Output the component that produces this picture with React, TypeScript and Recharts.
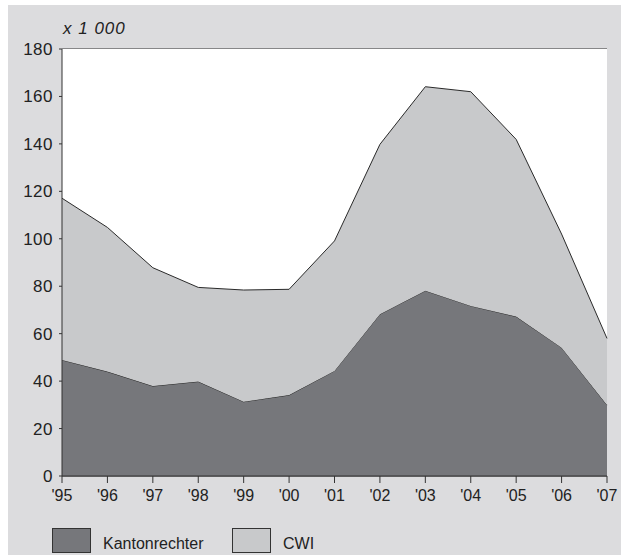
import { AreaChart, Area, XAxis, YAxis, CartesianGrid } from 'recharts';

const years = ["'95", "'96", "'97", "'98", "'99", "'00", "'01", "'02", "'03", "'04", "'05", "'06", "'07"];
const kantonrechter = [48.9, 44.0, 37.9, 39.8, 31.3, 34.1, 44.3, 68.2, 78.1, 71.7, 67.2, 54.1, 29.9];
const cwi = [68.2, 60.8, 49.9, 39.7, 47.1, 44.6, 54.8, 71.6, 86.0, 90.3, 74.7, 47.9, 28.1];
const yTicks = [0, 20, 40, 60, 80, 100, 120, 140, 160, 180];

const DARK = '#76777b';
const LIGHT = '#c8c9cb';
const BG = '#dcdcde';
const FONT = '"Liberation Sans", Arial, sans-serif';

const data = years.map((year, i) => ({ year, kantonrechter: kantonrechter[i], cwi: cwi[i] }));

const legendItems = [
    { name: 'Kantonrechter', color: DARK },
    { name: 'CWI', color: LIGHT }
];

export default function App() {
    return (
        <div style={{ position: 'fixed', left: 8, top: 5, width: 640, height: 560, background: BG, overflow: 'hidden' }}>
            <style>{'html, body { overflow: hidden; }'}</style>
            <span style={{ position: 'absolute', left: 55, top: 14, fontFamily: FONT, fontSize: 17, letterSpacing: 1, fontStyle: 'italic', color: '#222' }}>
                x 1 000
            </span>
            <AreaChart width={613} height={550} data={data} margin={{ top: 44, right: 14, bottom: 49, left: 0 }}>
                <rect x={54} y={44} width={545} height={427} fill="#fff" />
                <CartesianGrid vertical={false} stroke="#333" strokeOpacity={1} />
                <Area type="linear" dataKey="kantonrechter" stackId="a" fill={DARK} fillOpacity={1} stroke="#2a2a2a" strokeWidth={1} isAnimationActive={false} />
                <Area type="linear" dataKey="cwi" stackId="a" fill={LIGHT} fillOpacity={1} stroke="#2a2a2a" strokeWidth={1} isAnimationActive={false} />
                <XAxis
                    dataKey="year"
                    height={30}
                    tickSize={7}
                    tickMargin={7}
                    interval={0}
                    stroke="#333"
                    tick={{ fill: '#222', fontSize: 16, fontFamily: FONT }}
                />
                <YAxis
                    width={54}
                    domain={[0, 180]}
                    ticks={yTicks}
                    interval={0}
                    tickSize={3}
                    tickMargin={6}
                    stroke="#333"
                    tick={{ fill: '#222', fontSize: 17, fontFamily: FONT, letterSpacing: 0.5 }}
                />
                <YAxis yAxisId="right" orientation="right" width={0} tick={false} tickLine={false} stroke="#333" domain={[0, 180]} />
            </AreaChart>
            <div style={{ position: 'absolute', left: 44, top: 523, display: 'flex', alignItems: 'center', fontFamily: FONT, fontSize: 16, color: '#222' }}>
                {legendItems.map(item => (
                    <div key={item.name} style={{ display: 'flex', alignItems: 'center', width: 180 }}>
                        <div style={{ width: 37, height: 23, background: item.color, border: '1px solid #333' }} />
                        <span style={{ marginLeft: 12, marginTop: 6 }}>{item.name}</span>
                    </div>
                ))}
            </div>
        </div>
    );
}
